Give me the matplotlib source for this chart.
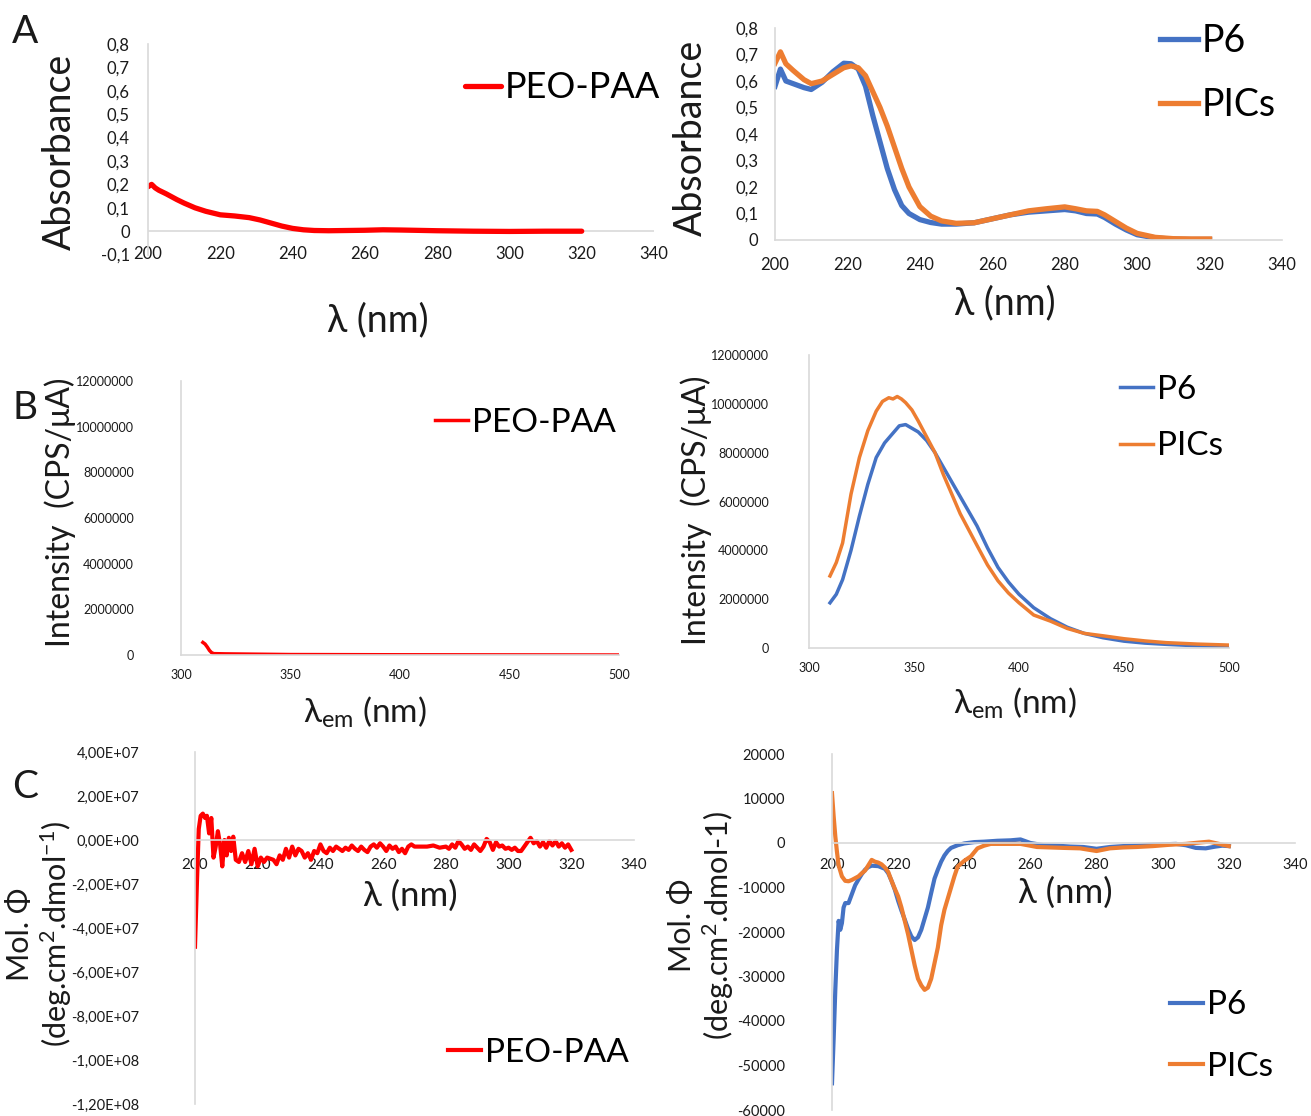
import matplotlib
matplotlib.use("Agg")
import matplotlib.pyplot as plt
from matplotlib.ticker import FuncFormatter, MultipleLocator

# ---------------------------------------------------------------------------
# Data
# ---------------------------------------------------------------------------

# A - UV/vis absorbance
abs_peo_wl = [200, 201, 202, 203, 205, 208, 210, 213, 216, 220, 224, 228, 231, 234,
              237, 240, 243, 246, 250, 260, 265, 270, 280, 290, 300, 310, 320]
abs_peo = [0.19, 0.20, 0.185, 0.175, 0.16, 0.135, 0.12, 0.10, 0.085, 0.07, 0.065, 0.058,
           0.048, 0.035, 0.022, 0.012, 0.006, 0.003, 0.002, 0.004, 0.006, 0.005, 0.002,
           0.0, -0.001, 0.0, 0.0]

abs_wl = [200, 201.5, 203, 205, 208, 210, 213, 216, 219, 221, 223, 225, 227, 229, 231,
          233, 235, 237, 240, 243, 246, 250, 255, 260, 265, 270, 275, 280, 283, 286, 289,
          291, 294, 297, 300, 305, 310, 315, 320]
abs_p6 = [0.58, 0.645, 0.60, 0.59, 0.575, 0.568, 0.595, 0.635, 0.667, 0.665, 0.645, 0.58,
          0.47, 0.37, 0.27, 0.19, 0.13, 0.10, 0.077, 0.066, 0.06, 0.06, 0.065, 0.08, 0.095,
          0.105, 0.11, 0.115, 0.11, 0.10, 0.098, 0.085, 0.06, 0.038, 0.02, 0.008, 0.003,
          0.002, 0.002]
abs_pics = [0.667, 0.71, 0.665, 0.64, 0.605, 0.59, 0.60, 0.625, 0.65, 0.657, 0.65, 0.62,
            0.56, 0.50, 0.43, 0.35, 0.27, 0.20, 0.126, 0.09, 0.072, 0.063, 0.065, 0.08,
            0.095, 0.11, 0.118, 0.125, 0.118, 0.11, 0.108, 0.095, 0.07, 0.045, 0.025, 0.01,
            0.005, 0.004, 0.004]

# B - fluorescence emission (CPS/uA)
em_peo_wl = [310, 311, 312, 313, 314, 315, 320, 330, 350, 400, 450, 500]
em_peo = [0.55e6, 0.48e6, 0.35e6, 0.2e6, 0.1e6, 0.06e6, 0.05e6, 0.04e6, 0.02e6, 0.01e6,
          0.005e6, 0.0]

em_p6_wl = [310, 313, 316, 320, 324, 328, 332, 336, 340, 343, 346, 349, 352, 356, 360,
            364, 368, 372, 376, 380, 385, 390, 395, 400, 407, 415, 423, 431, 440, 450,
            460, 470, 485, 500]
em_p6 = [1.85e6, 2.2e6, 2.8e6, 4.0e6, 5.4e6, 6.7e6, 7.8e6, 8.4e6, 8.8e6, 9.1e6, 9.15e6,
         9.0e6, 8.85e6, 8.5e6, 8.0e6, 7.4e6, 6.8e6, 6.2e6, 5.6e6, 5.0e6, 4.1e6, 3.3e6,
         2.7e6, 2.2e6, 1.65e6, 1.2e6, 0.85e6, 0.6e6, 0.42e6, 0.28e6, 0.2e6, 0.15e6,
         0.09e6, 0.05e6]

em_pics_wl = [310, 313, 316, 320, 324, 328, 332, 335, 338, 340, 342, 344, 346, 349, 352,
              356, 360, 364, 368, 372, 376, 380, 385, 390, 395, 400, 407, 415, 423, 431,
              440, 450, 460, 470, 485, 500]
em_pics = [2.95e6, 3.5e6, 4.3e6, 6.3e6, 7.8e6, 8.9e6, 9.7e6, 10.1e6, 10.25e6, 10.2e6,
           10.3e6, 10.2e6, 10.05e6, 9.75e6, 9.3e6, 8.65e6, 8.0e6, 7.1e6, 6.3e6, 5.5e6,
           4.85e6, 4.2e6, 3.4e6, 2.75e6, 2.25e6, 1.85e6, 1.35e6, 1.1e6, 0.8e6, 0.6e6,
           0.5e6, 0.38e6, 0.29e6, 0.22e6, 0.16e6, 0.12e6]

# C - circular dichroism, PEO-PAA (x1e7)
cd_peo_wl = [200.0, 200.6, 201.2, 201.8, 202.5, 203.2, 203.8, 204.5, 205.2, 205.9, 206.6,
             207.3, 208.0, 208.7, 209.4, 210.1, 210.8, 211.5, 212.2, 213, 214, 215, 216,
             217, 218, 219, 220, 221, 222, 223, 224, 225, 226, 227, 228, 229, 230, 231,
             232, 233, 234, 235, 236, 237, 238, 239, 240, 241, 242, 243, 244, 245, 246,
             247, 248, 249, 250, 251, 252, 253, 254, 255, 256, 257, 258, 259, 260, 261,
             262, 263, 264, 265, 266, 267, 268, 269, 270, 272, 274, 276, 278, 280, 281,
             282, 283, 284, 285, 286, 287, 288, 289, 290, 291, 292, 293, 294, 295, 296,
             297, 298, 299, 300, 301, 302, 303, 304, 305, 306, 307, 308, 309, 310, 311,
             312, 313, 314, 315, 316, 317, 318, 319, 320]
cd_peo = [-4.85, -2.0, 0.5, 1.1, 1.2, 1.0, 1.1, 0.3, 1.0, -0.8, -0.3, 0.4, -0.2, -1.2,
          0.0, -0.7, 0.1, -0.5, 0.15, -0.9, -1.0, -0.6, -1.0, -0.5, -1.1, -0.4, -1.2,
          -0.8, -1.0, -0.8, -0.85, -0.9, -1.1, -0.7, -0.9, -0.4, -0.8, -0.3, -0.7, -0.4,
          -0.5, -0.8, -0.6, -0.9, -0.5, -0.6, -0.2, -0.5, -0.6, -0.35, -0.5, -0.3, -0.4,
          -0.5, -0.35, -0.45, -0.25, -0.4, -0.5, -0.3, -0.45, -0.55, -0.3, -0.2, -0.35,
          -0.15, -0.3, -0.5, -0.25, -0.4, -0.3, -0.55, -0.4, -0.6, -0.3, -0.2, -0.3, -0.3,
          -0.3, -0.25, -0.35, -0.3, -0.4, -0.2, -0.35, -0.05, -0.2, -0.4, -0.3, -0.45,
          -0.2, -0.35, -0.5, -0.3, 0.05, -0.1, -0.45, -0.1, -0.3, -0.25, -0.4, -0.35,
          -0.45, -0.35, -0.5, -0.5, -0.3, -0.1, 0.1, -0.15, -0.05, -0.3, -0.1, -0.35,
          -0.05, -0.25, -0.05, -0.3, -0.15, -0.35, -0.2, -0.45]
cd_peo = [v * 1e7 for v in cd_peo]

# C - circular dichroism, P6 and PICs (x1000)
cd_p6_wl = [200, 200.5, 201, 201.5, 202, 202.5, 203, 203.5, 204, 205, 206, 207, 208, 209,
            210, 211, 212, 214, 216, 217, 218, 219, 220, 221, 222, 223, 224, 225, 226,
            227, 228, 229, 230, 231, 232, 233, 234, 235, 236, 238, 240, 243, 246, 250,
            254, 257, 260, 264, 268, 272, 276, 280, 284, 288, 292, 296, 300, 304, 307,
            310, 313, 316, 318, 320]
cd_p6 = [-54, -44, -33, -24, -17.5, -19.5, -18, -14.5, -13.5, -13.5, -11.5, -9.5, -8.2,
         -7, -6, -5.4, -5.1, -5.2, -5.8, -6.8, -8.5, -10.5, -13, -15.2, -17.2, -19.3, -21,
         -21.8, -21.2, -19.5, -17, -14.5, -11.2, -8, -6, -4.2, -2.8, -1.8, -1.1, -0.5,
         -0.1, 0.2, 0.3, 0.5, 0.6, 0.8, 0.0, -0.5, -0.6, -0.8, -0.9, -1.3, -0.9, -0.7,
         -0.6, -0.4, -0.3, -0.2, -0.5, -1.1, -1.2, -0.8, -0.6, -0.7]
cd_p6 = [v * 1000 for v in cd_p6]

cd_pics_wl = [200, 200.5, 201, 201.5, 202, 203, 204, 205, 206, 207, 208, 209, 210, 211,
              212, 213, 214, 215, 216, 217, 218, 219, 220, 221, 222, 223, 224, 225, 226,
              227, 228, 229, 230, 231, 232, 233, 234, 235, 236, 237, 238, 240, 242, 244,
              246, 248, 252, 257, 262, 266, 270, 275, 280, 284, 288, 292, 297, 302, 307,
              311, 314, 317, 320]
cd_pics = [11.2, 6, 1.5, -2, -5, -7.5, -8.5, -8.6, -8.3, -7.9, -7.5, -6.8, -6.2, -5,
           -3.8, -4.2, -4.4, -4.8, -5.5, -6.5, -8.5, -10.3, -12, -14.5, -17.5, -20.5, -24,
           -27.5, -30.5, -32, -33, -32.5, -30.5, -27, -23.5, -18.5, -15, -12.5, -10, -7.5,
           -5.3, -4, -3, -1.2, -0.6, -0.2, -0.2, -0.2, -0.9, -1.0, -1.1, -1.2, -1.8, -1.2,
           -1.0, -0.9, -0.7, -0.4, -0.2, 0.1, 0.3, -0.2, -0.7]
cd_pics = [v * 1000 for v in cd_pics]

RED = "#FF0000"
BLUE = "#4472C4"
ORANGE = "#ED7D31"
AXIS_GREY = "#D9D9D9"
TXT = "#1A1A1A"

W, H = 1311, 1116

plt.rcParams["font.family"] = ["Lato", "DejaVu Sans"]
plt.rcParams["axes.unicode_minus"] = False
plt.rcParams["mathtext.default"] = "regular"

fig = plt.figure(figsize=(W / 100, H / 100), dpi=100)


def px_axes(x0, x1, ytop, ybot):
    """Axes placed by pixel edges of the reference image."""
    return fig.add_axes([x0 / W, 1 - ybot / H, (x1 - x0) / W, (ybot - ytop) / H])


def ftxt(x, y, s, size, rot=0, **kw):
    fig.text(x / W, 1 - y / H, s, fontsize=size, rotation=rot, ha="center",
             va="center", color=TXT, **kw)


def excel_style(ax, xpad, ypad, tick_size, zero_spine=False):
    for side in ("top", "right"):
        ax.spines[side].set_visible(False)
    ax.spines["left"].set_color(AXIS_GREY)
    ax.spines["bottom"].set_color(AXIS_GREY)
    ax.spines["left"].set_linewidth(1.2)
    ax.spines["bottom"].set_linewidth(1.2)
    if zero_spine:
        ax.spines["bottom"].set_position(("data", 0))
    ax.tick_params(length=0, labelsize=tick_size, colors=TXT)
    ax.tick_params(axis="x", pad=xpad)
    ax.tick_params(axis="y", pad=ypad)
    ax.patch.set_alpha(0)


def add_legend(ax, x, y, size, spacing=0.5):
    ax.legend(loc="center left", bbox_to_anchor=(x / W, 1 - y / H),
              bbox_transform=fig.transFigure, frameon=False, fontsize=size,
              handlelength=1.0, handletextpad=0.1, borderpad=0, borderaxespad=0,
              labelspacing=spacing)


comma1 = FuncFormatter(lambda v, p: "0" if abs(v) < 1e-9 else f"{v:.1f}".replace(".", ","))
sci2 = FuncFormatter(lambda v, p: f"{v:.2E}".replace(".", ","))
plain = FuncFormatter(lambda v, p: f"{v:.0f}")

# ---------------------------------------------------------------------------
# A left
# ---------------------------------------------------------------------------
ax = px_axes(148, 654, 44, 254.6)
ax.plot(abs_peo_wl, abs_peo, color=RED, lw=3.8, solid_capstyle="round", label="PEO-PAA")
ax.axhline(0, color=AXIS_GREY, lw=1.2, zorder=0)
ax.set_xlim(200, 340)
ax.set_ylim(-0.1, 0.8)
ax.xaxis.set_major_locator(MultipleLocator(20))
ax.yaxis.set_major_locator(MultipleLocator(0.1))
ax.yaxis.set_major_formatter(comma1)
excel_style(ax, -6, 13, 12)
ax.spines["bottom"].set_visible(False)
add_legend(ax, 465, 88, 26)

# ---------------------------------------------------------------------------
# A right
# ---------------------------------------------------------------------------
ax = px_axes(775, 1282, 28, 240)
ax.plot(abs_wl, abs_p6, color=BLUE, lw=3.8, label="P6")
ax.plot(abs_wl, abs_pics, color=ORANGE, lw=3.8, label="PICs")
ax.set_xlim(200, 340)
ax.set_ylim(0, 0.8)
ax.xaxis.set_major_locator(MultipleLocator(20))
ax.yaxis.set_major_locator(MultipleLocator(0.1))
ax.yaxis.set_major_formatter(comma1)
excel_style(ax, 12, 12, 12)
add_legend(ax, 1160, 73, 27, spacing=0.75)

# ---------------------------------------------------------------------------
# B left
# ---------------------------------------------------------------------------
ax = px_axes(181, 619, 381, 655)
ax.plot(em_peo_wl, em_peo, color=RED, lw=2.5, label="PEO-PAA")
ax.set_xlim(300, 500)
ax.set_ylim(0, 12000000)
ax.xaxis.set_major_locator(MultipleLocator(50))
ax.yaxis.set_major_locator(MultipleLocator(2000000))
ax.yaxis.set_major_formatter(plain)
excel_style(ax, 10, 34, 9)
add_legend(ax, 435, 423, 24)

# ---------------------------------------------------------------------------
# B right
# ---------------------------------------------------------------------------
ax = px_axes(809, 1229, 355, 648)
ax.plot(em_p6_wl, em_p6, color=BLUE, lw=2.5, label="P6")
ax.plot(em_pics_wl, em_pics, color=ORANGE, lw=2.5, label="PICs")
ax.set_xlim(300, 500)
ax.set_ylim(0, 12000000)
ax.xaxis.set_major_locator(MultipleLocator(50))
ax.yaxis.set_major_locator(MultipleLocator(2000000))
ax.yaxis.set_major_formatter(plain)
excel_style(ax, 10, 29, 9)
add_legend(ax, 1120, 418, 24, spacing=0.8)

# ---------------------------------------------------------------------------
# C left
# ---------------------------------------------------------------------------
ax = px_axes(195, 634, 752, 1104)
ax.plot(cd_peo_wl, cd_peo, color=RED, lw=3.0, label="PEO-PAA")
ax.set_xlim(200, 340)
ax.set_ylim(-1.2e8, 4e7)
ax.xaxis.set_major_locator(MultipleLocator(20))
ax.yaxis.set_major_locator(MultipleLocator(2e7))
ax.yaxis.set_major_formatter(sci2)
excel_style(ax, 13, 40, 10.5, zero_spine=True)
ax.tick_params(axis="x", labelsize=11)
add_legend(ax, 448, 1053, 24)

# ---------------------------------------------------------------------------
# C right
# ---------------------------------------------------------------------------
ax = px_axes(832, 1295, 754, 1110)
ax.plot(cd_p6_wl, cd_p6, color=BLUE, lw=3.0, label="P6")
ax.plot(cd_pics_wl, cd_pics, color=ORANGE, lw=3.0, label="PICs")
ax.set_xlim(200, 340)
ax.set_ylim(-60000, 20000)
ax.xaxis.set_major_locator(MultipleLocator(20))
ax.yaxis.set_major_locator(MultipleLocator(10000))
ax.yaxis.set_major_formatter(plain)
excel_style(ax, 11, 34, 10.5, zero_spine=True)
add_legend(ax, 1170, 1036, 24, spacing=0.95)

# ---------------------------------------------------------------------------
# Axis titles and panel letters
# ---------------------------------------------------------------------------
ftxt(25, 32, "A", 28)
ftxt(25, 408, "B", 28)
ftxt(25, 787, "C", 28)

ftxt(60, 152, "Absorbance", 27, rot=90)
ftxt(378, 320, "λ (nm)", 27)
ftxt(691, 138, "Absorbance", 27, rot=90)
ftxt(1005, 303, "λ (nm)", 27)

ftxt(60, 512, "Intensity  (CPS/μA)", 23, rot=90)
ftxt(365, 712, "λ$_{em}$ (nm)", 24)
ftxt(696, 510, "Intensity  (CPS/μA)", 23, rot=90)
ftxt(1015, 703, "λ$_{em}$ (nm)", 24)

ftxt(40, 934, "Mol. Φ\n(deg.cm$^{2}$.dmol$^{-1}$)", 22, rot=90, linespacing=1.15)
ftxt(410, 896, "λ (nm)", 25)
ftxt(702, 925, "Mol. Φ\n(deg.cm$^{2}$.dmol-1)", 22, rot=90, linespacing=1.15)
ftxt(1065, 893, "λ (nm)", 25)

fig.savefig("out.png", dpi=100, facecolor="white")
